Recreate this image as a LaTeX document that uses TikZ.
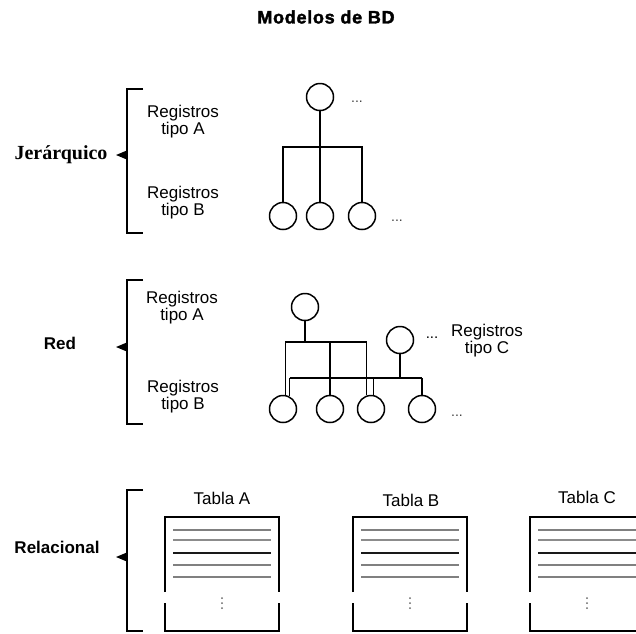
\documentclass[tikz,border=0pt]{standalone}
\usepackage{fontspec}
\setmainfont{Liberation Sans}
\newfontfamily\titlefont[LetterSpace=4,FakeBold=2]{Liberation Sans}
\newfontfamily\serifbd{Liberation Serif}
\usetikzlibrary{arrows.meta}

\tikzset{
  rec/.style={circle, draw, line width=1.5pt, minimum size=27pt, inner sep=0pt},
  hline/.style={line width=2.3pt},
  nline/.style={line width=1.4pt},
  brk/.style={line width=1.2pt},
  brkarrow/.style={-{Triangle[length=10pt,width=8pt]}, line width=1.2pt},
  lbl/.style={font=\fontsize{17}{17}\selectfont, align=center},
  modelo/.style={font=\fontsize{17}{17}\selectfont\bfseries},
  dots/.style={font=\fontsize{14}{14}\selectfont, text=black!75},
  tframe/.style={line width=1.8pt},
  trow/.style={line width=1.8pt, black!50},
  trowlight/.style={line width=1.2pt, black!45},
  trowdark/.style={line width=1.8pt, black!90},
}

\begin{document}
\begin{tikzpicture}[x=1pt, y=-1pt]
\useasboundingbox (0,0) rectangle (636,633);

% title
\node (title) at (326,17) {\titlefont\fontsize{18}{18}\selectfont\bfseries Modelos de BD};

% ---------- hierarchical model ----------
\draw[brk] (143,89) -- (127,89) -- (127,233) -- (143,233);
\coordinate (hbr) at (127,155);
\node[font=\serifbd\fontsize{20}{20}\selectfont\bfseries] (jer) at (61,155) {Jerárquico};
\draw[brkarrow] (hbr) -- ++(-11,0);
\node[lbl] (hA) at (183,122) {Registros\\tipo A};
\node[lbl] (hB) at (183,203) {Registros\\tipo B};

\node[rec] (h0) at (320,97) {};
\node[rec] (h1) at (283,216) {};
\node[rec] (h2) at (320,216) {};
\node[rec] (h3) at (362,216) {};
\coordinate (hb) at (320,147);
\draw[hline] (h0.south) -- (h2.north);
\draw[hline] (h1.north) |- (hb) -| (h3.north);
\node[dots] (hd1) at (357,102) {...};
\node[dots] (hd2) at (397,221) {...};

% ---------- network model ----------
\draw[brk] (143,280) -- (127,280) -- (127,424) -- (143,424);
\coordinate (rbr) at (127,347);
\node[modelo] (red) at (60,343) {Red};
\draw[brkarrow] (rbr) -- ++(-11,0);
\node[lbl] (rA) at (182,308) {Registros\\tipo A};
\node[lbl] (rB) at (183,397) {Registros\\tipo B};

\node[rec] (n0) at (305,307) {};
\node[rec] (nc) at (400,340) {};
\node[rec] (m1) at (283,409) {};
\node[rec] (m2) at (330,409) {};
\node[rec] (m3) at (371,409) {};
\node[rec] (m4) at (422,409) {};
\coordinate (b1) at (305,342);
\coordinate (b2) at (400,378);

% links of the first owner record
\draw[nline] (n0.south) -- (b1);
\draw[nline] (m1.80 |- b1) -- (m3.108 |- b1);
\draw[nline] (m1.80 |- b1) -- (m1.80);
\draw[nline] (m2.north |- b1) -- (m2.north);
\draw[nline] (m3.108 |- b1) -- (m3.108);
% links of the type C owner record
\draw[nline] (nc.south) -- (b2);
\draw[nline] (m1.62 |- b2) -- (m4.north |- b2);
\draw[nline] (m1.62 |- b2) -- (m1.62);
\draw[nline] (m3.81 |- b2) -- (m3.81);
\draw[nline] (m4.north |- b2) -- (m4.north);

\node[dots, text=black, font=\fontsize{15}{15}\selectfont] (nd1) at (432,338) {...};
\node[lbl] (rC) at (487,341) {Registros\\tipo C};
\node[dots] (nd2) at (457,416) {...};

% ---------- relational model ----------
\draw[brk] (143,490) -- (127,490) -- (127,631) -- (143,631);
\coordinate (tbr) at (127,557);
\node[modelo] (rel) at (57,547) {Relacional};
\draw[brkarrow] (tbr) -- ++(-11,0);

\foreach \lx/\cx/\ty/\nm in {165/222/498/A, 353/411/500/B, 530/587/497/C}{
  \node[lbl] (tabla\nm) at (\cx,\ty) {Tabla \nm};
  % frame with a break in both side walls
  \draw[tframe] (\lx,592) -- (\lx,517) -- ++(114,0) -- ++(0,75);
  \draw[tframe] (\lx,603) -- (\lx,631) -- ++(114,0) -- ++(0,-28);
  % rows
  \draw[trow]      (\lx+8,530) -- ++(98,0);
  \draw[trowlight] (\lx+8,540) -- ++(98,0);
  \draw[trowdark]  (\lx+8,553) -- ++(98,0);
  \draw[trow]      (\lx+8,565) -- ++(98,0);
  \draw[trow]      (\lx+8,577) -- ++(98,0);
  % vertical ellipsis
  \foreach \dy in {598,603,608}
    \fill[black!60] (\lx+57,\dy) circle (1pt);
}
\end{tikzpicture}
\end{document}
